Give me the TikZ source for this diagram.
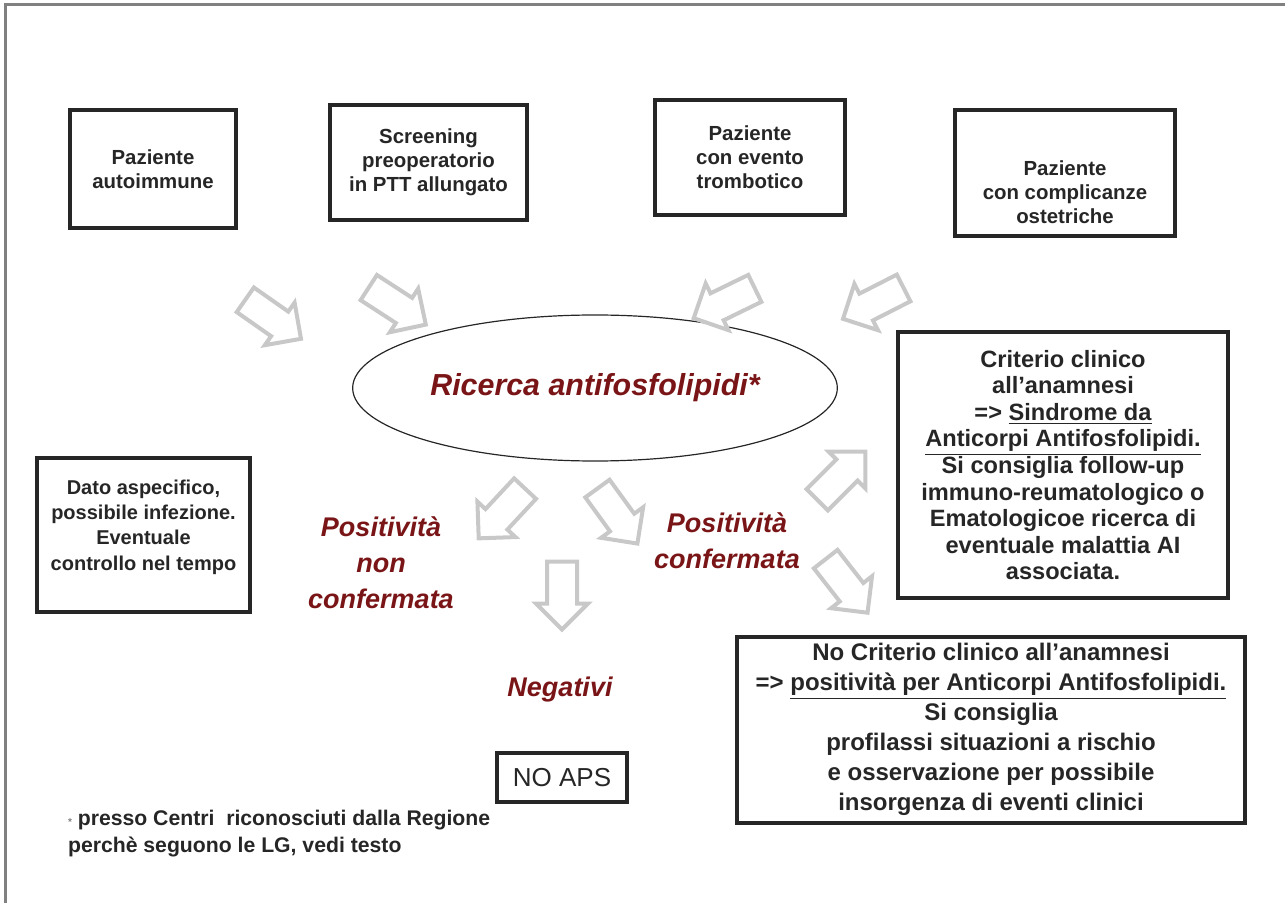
\documentclass[tikz,border=0pt]{standalone}
\usepackage{fontspec}
\setmainfont{Liberation Sans}
\usetikzlibrary{positioning,shapes.geometric,shapes.arrows}
\definecolor{ink}{HTML}{262626}
\definecolor{wine}{HTML}{7A1517}
\definecolor{rim}{HTML}{808080}
\definecolor{pale}{HTML}{C8C8C8}
\tikzset{
  boxtext/.style={align=center,text=ink,font=\bfseries\fontsize{10.2}{12}\selectfont},
  box/.style={boxtext,draw=ink,line width=2pt,inner sep=0pt},
  bigbox/.style={box,font=\bfseries\fontsize{11.8}{13.3}\selectfont},
  verdict/.style={text=wine,align=center,font=\bfseries\itshape\fontsize{13.5}{18}\selectfont},
  hollow/.style={single arrow,draw=pale,fill=white,line width=2pt,inner sep=6.5pt,
    single arrow head extend=5.5pt,minimum height=34pt}}

\begin{document}
\begin{tikzpicture}[x=0.5pt,y=-0.5pt]
  \useasboundingbox (0,0) rectangle (1285,903);
  \draw[rim,line width=1.5pt] (5,903) -- (5,5) -- (1285,5);
  % who gets tested
  \node[box,minimum width=83pt,minimum height=59pt] (auto) at (153,169) {Paziente\\autoimmune};
  \node[box,minimum width=98.5pt,minimum height=57.5pt] (preop) at (428.5,162.5) {Screening\\preoperatorio\\in PTT allungato};
  \node[box,minimum width=95pt,minimum height=57.5pt] (trombo) at (750,157.5) {Paziente\\con evento\\trombotico};
  \node[box,minimum width=110pt,minimum height=63pt] (ostet) at (1065,173) {};
  \node[boxtext] (ostettxt) at (1065,192) {Paziente\\con complicanze\\ostetriche};
  % the test
  \node[ellipse,draw=ink,line width=0.6pt,minimum width=223pt,minimum height=73pt,text=wine,
    font=\bfseries\itshape\fontsize{15.2}{18}\selectfont] (ricerca) at (595,388) {Ricerca antifosfolipidi*};
  \node[hollow,rotate=-35] (a1) at (267,315) {};
  \node[hollow,rotate=-33] (a2) at (391,302) {};
  \node[hollow,rotate=-154] (a3) at (731,300) {};
  \node[hollow,rotate=-153] (a4) at (880,300) {};
  % outcomes
  \node[hollow,rotate=-133] (a5) at (507,508) {};
  \node[hollow,rotate=-54] (a6) at (613,510) {};
  \node[hollow,rotate=-90] (a7) at (562,588) {};
  \node[hollow,rotate=45] (a8) at (836,481) {};
  \node[hollow,rotate=-52] (a9) at (842,580) {};
  \node[verdict] (nonconf) at (381,563) {Positività\\non\\confermata};
  \node[verdict] (conf) at (727,541) {Positività\\confermata};
  \node[verdict] (neg) at (560,690) {Negativi};
  \node[box,minimum width=106.5pt,minimum height=77pt] (dato) at (143.5,535) {};
  \node[boxtext,font=\bfseries\fontsize{10}{12.7}\selectfont] (datotxt) at (143.5,527) {Dato aspecifico,\\possibile infezione.\\Eventuale\\controllo nel tempo};
  \node[box,font=\fontsize{13}{14}\selectfont,minimum width=65pt,minimum height=24.5pt] (noaps) at (562,777.5) {NO APS};
  \node[bigbox,minimum width=165pt,minimum height=133pt] (sindrome) at (1063,465)
    {Criterio clinico\\all'anamnesi\\=> \underline{Sindrome da}\\\underline{Anticorpi Antifosfolipidi.}\\Si consiglia follow-up\\immuno-reumatologico o\\Ematologicoe ricerca di\\eventuale malattia AI\\associata.};
  \node[box,minimum width=254pt,minimum height=93pt] (positivo) at (991,730) {};
  \node[boxtext,font=\bfseries\fontsize{12}{15}\selectfont] (positxt) at (991,729)
    {No Criterio clinico all'anamnesi\\=> \underline{positività per Anticorpi Antifosfolipidi.}\\Si consiglia\\profilassi situazioni a rischio\\e osservazione per possibile\\insorgenza di eventi clinici};
  \node[anchor=west,align=left,text=ink,font=\bfseries\fontsize{10.6}{13.5}\selectfont] (nota) at (61,834)
    {{\color{rim}\tiny*} presso Centri\ \ riconosciuti dalla Regione\\perchè seguono le LG, vedi testo};
\end{tikzpicture}
\end{document}
